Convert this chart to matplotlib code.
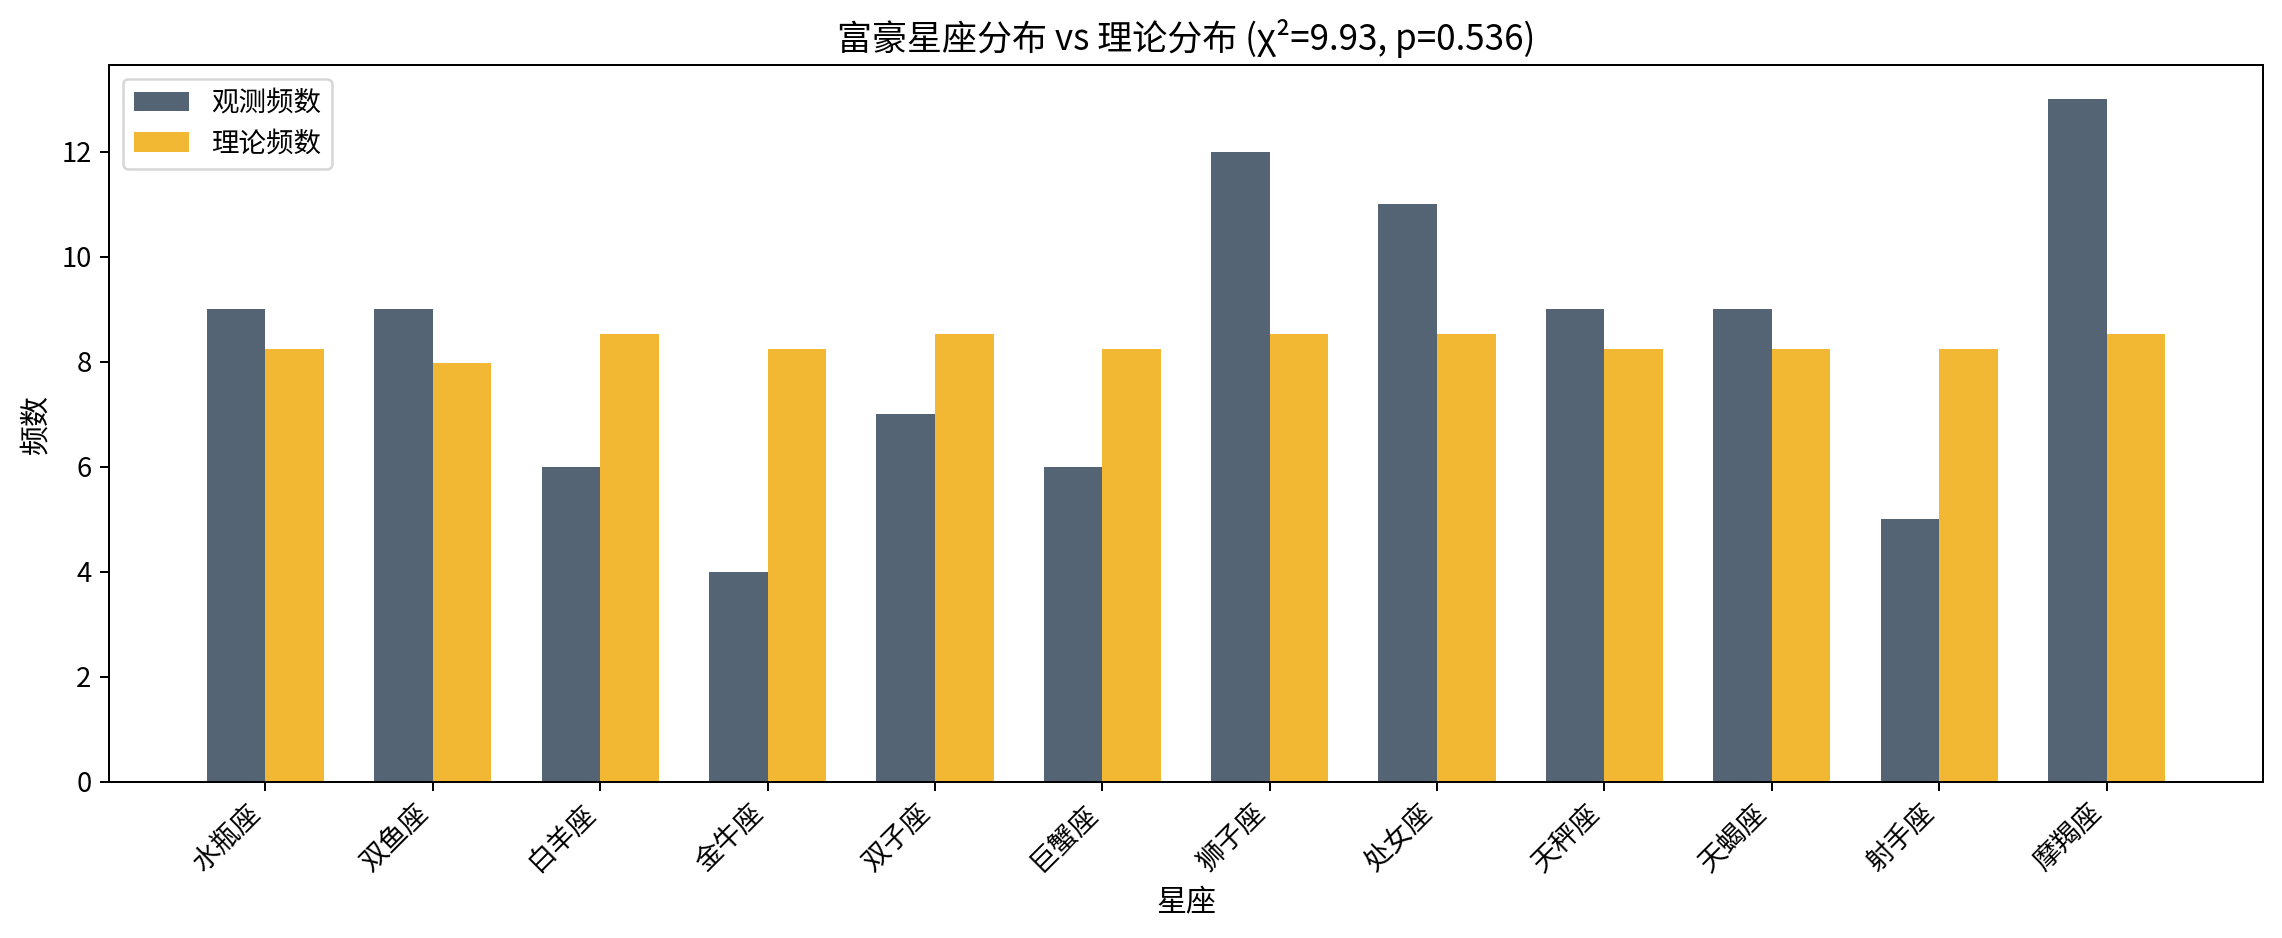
import numpy as np
import matplotlib
matplotlib.use("Agg")
import matplotlib.pyplot as plt

plt.rcParams['font.family'] = ['Noto Sans CJK SC', 'DejaVu Sans']
plt.rcParams['axes.unicode_minus'] = False

signs = ['水瓶座', '双鱼座', '白羊座', '金牛座', '双子座', '巨蟹座',
         '狮子座', '处女座', '天秤座', '天蝎座', '射手座', '摩羯座']
observed = [9, 9, 6, 4, 7, 6, 12, 11, 9, 9, 5, 13]
expected = [8.24, 7.97, 8.52, 8.24, 8.52, 8.24, 8.52, 8.52, 8.24, 8.24, 8.24, 8.52]
chi2 = 9.93
pval = 0.536

DPI = 180
fig = plt.figure(figsize=(2282/DPI, 938/DPI), dpi=DPI)
ax = fig.add_axes([109/2282, 1-782/938, (2263-109)/2282, (782-65)/938])

x = np.arange(len(signs))
w = 0.35
ax.bar(x - w/2, observed, w, color='#546474', label='观测频数')
ax.bar(x + w/2, expected, w, color='#F2B733', label='理论频数')

ax.set_xticks(x)
ax.set_xticklabels(signs, rotation=45, ha='right')
ax.tick_params(labelsize=11)
ax.set_xlabel('星座', fontsize=12)
ax.set_ylabel('频数', fontsize=12)
ax.set_title(f'富豪星座分布 vs 理论分布 (χ²={chi2:.2f}, p={pval:.3f})', fontsize=14)
ax.legend(loc='upper left', fontsize=11)

fig.savefig('out.png', dpi=DPI)
